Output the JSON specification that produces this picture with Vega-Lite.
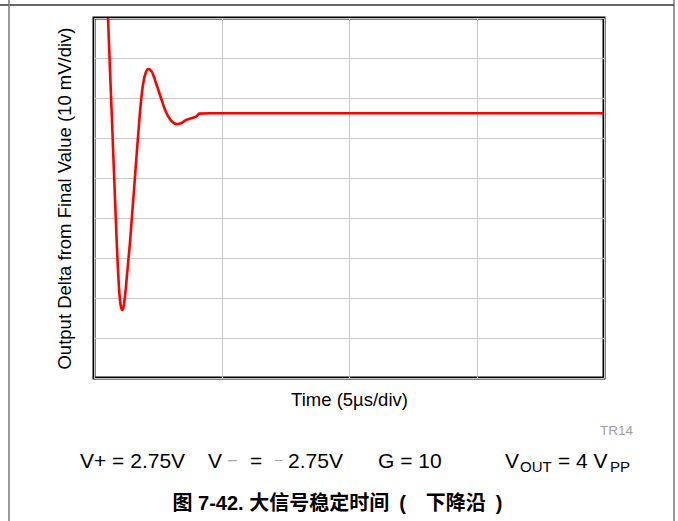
{
  "$schema": "https://vega.github.io/schema/vega-lite/v6.json",
  "width": 510,
  "height": 360,
  "autosize": "none",
  "padding": {"left": 94, "top": 18, "right": 74, "bottom": 143},
  "background": "white",
  "resolve": {"axis": {"x": "independent", "y": "independent"}},
  "config": {
    "view": {"stroke": "black", "strokeWidth": 3},
    "axis": {"gridColor": "#c8c8c8", "gridWidth": 1, "gridOpacity": 1, "labels": false, "ticks": false, "domain": false, "titleFont": "Liberation Sans", "titleFontSize": 18.5, "titleFontWeight": "normal", "titleColor": "black"},
    "text": {"font": "Liberation Sans, Noto Sans CJK SC", "fontSize": 21, "align": "left", "baseline": "alphabetic", "fill": "black"}
  },
  "datasets": {
    "wave": [
      {"t": 0.510, "v": 94.5}, {"t": 0.549, "v": 90}, {"t": 0.627, "v": 77}, {"t": 0.706, "v": 64.25},
      {"t": 0.784, "v": 51.25}, {"t": 0.863, "v": 38.5}, {"t": 0.902, "v": 32.25}, {"t": 0.941, "v": 27},
      {"t": 0.980, "v": 22.5}, {"t": 1.020, "v": 19.5}, {"t": 1.059, "v": 17.75}, {"t": 1.098, "v": 17},
      {"t": 1.137, "v": 17.25}, {"t": 1.176, "v": 18.5}, {"t": 1.216, "v": 20.5}, {"t": 1.255, "v": 23},
      {"t": 1.333, "v": 28.5}, {"t": 1.412, "v": 34}, {"t": 1.490, "v": 40.5}, {"t": 1.569, "v": 47},
      {"t": 1.647, "v": 53.75}, {"t": 1.725, "v": 60.25}, {"t": 1.804, "v": 66.5}, {"t": 1.882, "v": 71.5},
      {"t": 1.961, "v": 74.75}, {"t": 2.039, "v": 76.5}, {"t": 2.118, "v": 77.25}, {"t": 2.196, "v": 77.1},
      {"t": 2.275, "v": 76.5}, {"t": 2.353, "v": 75.25}, {"t": 2.431, "v": 73.75}, {"t": 2.510, "v": 72.25},
      {"t": 2.588, "v": 70.75}, {"t": 2.667, "v": 69.25}, {"t": 2.745, "v": 67.75}, {"t": 2.824, "v": 66.5},
      {"t": 2.902, "v": 65.5}, {"t": 2.980, "v": 64.75}, {"t": 3.059, "v": 64.1}, {"t": 3.137, "v": 63.75},
      {"t": 3.216, "v": 63.5}, {"t": 3.294, "v": 63.5}, {"t": 3.373, "v": 63.6}, {"t": 3.490, "v": 64},
      {"t": 3.608, "v": 64.5}, {"t": 3.725, "v": 64.75}, {"t": 3.843, "v": 65}, {"t": 3.961, "v": 65.25},
      {"t": 4.039, "v": 65.5}, {"t": 4.118, "v": 66.1}, {"t": 4.549, "v": 66.2}, {"t": 19.961, "v": 66.2}
    ]
  },
  "layer": [
    {
      "data": {"name": "wave"},
      "mark": {"type": "line", "color": "#ff0000", "strokeWidth": 2.6, "clip": true, "interpolate": "monotone"},
      "encoding": {
        "x": {"field": "t", "type": "quantitative", "scale": {"domain": [0, 20], "nice": false, "zero": false},
          "axis": {"values": [0, 5, 10, 15, 20], "grid": true, "title": "Time (5µs/div)", "titlePadding": 12}},
        "y": {"field": "v", "type": "quantitative", "scale": {"domain": [0, 90], "nice": false, "zero": false},
          "axis": {"values": [0, 10, 20, 30, 40, 50, 60, 70, 80, 90], "grid": true, "title": "Output Delta from Final Value (10 mV/div)", "titlePadding": 20}}
      }
    },
    {
      "data": {"values": [{}]},
      "mark": {"type": "rule", "color": "#333333", "strokeWidth": 1.5, "clip": false},
      "encoding": {
        "x": {"datum": -3.686, "type": "quantitative", "scale": {"domain": [0, 20]}, "axis": null},
        "x2": {"datum": 22.745},
        "y": {"datum": 93.25, "type": "quantitative", "scale": {"domain": [0, 90]}, "axis": null}
      }
    },
    {
      "data": {"values": [{}]},
      "mark": {"type": "rule", "color": "#777777", "strokeWidth": 1.5, "clip": false},
      "encoding": {
        "x": {"datum": -3.333, "type": "quantitative", "scale": {"domain": [0, 20]}, "axis": null},
        "y": {"datum": 94.5, "type": "quantitative", "scale": {"domain": [0, 90]}, "axis": null},
        "y2": {"datum": -35.75}
      }
    },
    {
      "data": {"values": [{}]},
      "mark": {"type": "rule", "color": "#555555", "strokeWidth": 1.2, "clip": false},
      "encoding": {
        "x": {"datum": 22.745, "type": "quantitative", "scale": {"domain": [0, 20]}, "axis": null},
        "y": {"datum": 94.5, "type": "quantitative", "scale": {"domain": [0, 90]}, "axis": null},
        "y2": {"datum": -35.75}
      }
    },
    {
      "data": {"values": [{}]},
      "mark": {"type": "text", "text": "TR14", "fontSize": 13.5, "fill": "#a0a0a0", "align": "right"},
      "encoding": {
        "x": {"datum": 21.137, "type": "quantitative", "scale": {"domain": [0, 20]}, "axis": null},
        "y": {"datum": -14.25, "type": "quantitative", "scale": {"domain": [0, 90]}, "axis": null}
      }
    },
    {
      "data": {"values": [{}]},
      "mark": {"type": "text", "text": "V+ = 2.75V"},
      "encoding": {
        "x": {"datum": -0.549, "type": "quantitative", "scale": {"domain": [0, 20]}, "axis": null},
        "y": {"datum": -22.5, "type": "quantitative", "scale": {"domain": [0, 90]}, "axis": null}
      }
    },
    {
      "data": {"values": [{}]},
      "mark": {"type": "text", "text": "V"},
      "encoding": {
        "x": {"datum": 4.471, "type": "quantitative", "scale": {"domain": [0, 20]}, "axis": null},
        "y": {"datum": -22.5, "type": "quantitative", "scale": {"domain": [0, 90]}, "axis": null}
      }
    },
    {
      "data": {"values": [{}]},
      "mark": {"type": "text", "text": "–", "fontSize": 16, "fill": "#a8a8a8", "baseline": "middle"},
      "encoding": {
        "x": {"datum": 5.255, "type": "quantitative", "scale": {"domain": [0, 20]}, "axis": null},
        "y": {"datum": -20.5, "type": "quantitative", "scale": {"domain": [0, 90]}, "axis": null}
      }
    },
    {
      "data": {"values": [{}]},
      "mark": {"type": "text", "text": "="},
      "encoding": {
        "x": {"datum": 6.118, "type": "quantitative", "scale": {"domain": [0, 20]}, "axis": null},
        "y": {"datum": -22.5, "type": "quantitative", "scale": {"domain": [0, 90]}, "axis": null}
      }
    },
    {
      "data": {"values": [{}]},
      "mark": {"type": "text", "text": "–", "fontSize": 14, "fill": "#a8a8a8", "baseline": "middle"},
      "encoding": {
        "x": {"datum": 7.098, "type": "quantitative", "scale": {"domain": [0, 20]}, "axis": null},
        "y": {"datum": -20.5, "type": "quantitative", "scale": {"domain": [0, 90]}, "axis": null}
      }
    },
    {
      "data": {"values": [{}]},
      "mark": {"type": "text", "text": "2.75V"},
      "encoding": {
        "x": {"datum": 7.608, "type": "quantitative", "scale": {"domain": [0, 20]}, "axis": null},
        "y": {"datum": -22.5, "type": "quantitative", "scale": {"domain": [0, 90]}, "axis": null}
      }
    },
    {
      "data": {"values": [{}]},
      "mark": {"type": "text", "text": "G = 10"},
      "encoding": {
        "x": {"datum": 11.137, "type": "quantitative", "scale": {"domain": [0, 20]}, "axis": null},
        "y": {"datum": -22.5, "type": "quantitative", "scale": {"domain": [0, 90]}, "axis": null}
      }
    },
    {
      "data": {"values": [{}]},
      "mark": {"type": "text", "text": "V"},
      "encoding": {
        "x": {"datum": 16.118, "type": "quantitative", "scale": {"domain": [0, 20]}, "axis": null},
        "y": {"datum": -22.5, "type": "quantitative", "scale": {"domain": [0, 90]}, "axis": null}
      }
    },
    {
      "data": {"values": [{}]},
      "mark": {"type": "text", "text": "OUT", "fontSize": 15},
      "encoding": {
        "x": {"datum": 16.706, "type": "quantitative", "scale": {"domain": [0, 20]}, "axis": null},
        "y": {"datum": -23.5, "type": "quantitative", "scale": {"domain": [0, 90]}, "axis": null}
      }
    },
    {
      "data": {"values": [{}]},
      "mark": {"type": "text", "text": "= 4 V"},
      "encoding": {
        "x": {"datum": 18.196, "type": "quantitative", "scale": {"domain": [0, 20]}, "axis": null},
        "y": {"datum": -22.5, "type": "quantitative", "scale": {"domain": [0, 90]}, "axis": null}
      }
    },
    {
      "data": {"values": [{}]},
      "mark": {"type": "text", "text": "PP", "fontSize": 15},
      "encoding": {
        "x": {"datum": 20.235, "type": "quantitative", "scale": {"domain": [0, 20]}, "axis": null},
        "y": {"datum": -23.5, "type": "quantitative", "scale": {"domain": [0, 90]}, "axis": null}
      }
    },
    {
      "data": {"values": [{}]},
      "mark": {"type": "text", "text": "图 7-42. 大信号稳定时间\u2002(\u2003下降沿\u2002)", "fontSize": 20, "fontWeight": "bold", "align": "center"},
      "encoding": {
        "x": {"datum": 9.55, "type": "quantitative", "scale": {"domain": [0, 20]}, "axis": null},
        "y": {"datum": -33, "type": "quantitative", "scale": {"domain": [0, 90]}, "axis": null}
      }
    }
  ]
}
